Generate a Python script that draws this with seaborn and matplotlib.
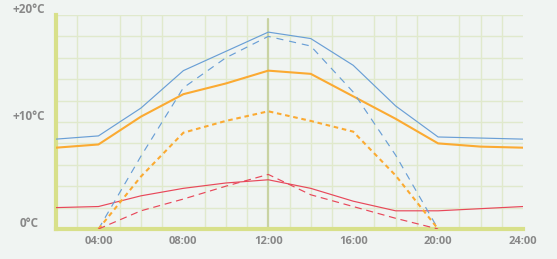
import matplotlib
matplotlib.use("Agg")
import matplotlib.pyplot as plt
import seaborn as sns
import numpy as np

# ---- data ----
hours_full = [2, 4, 6, 8, 10, 12, 14, 16, 18, 20, 22, 24]
hours_day = [4, 6, 8, 10, 12, 14, 16, 18, 20]

blue_solid = [8.4, 8.7, 11.3, 14.8, 16.6, 18.4, 17.8, 15.3, 11.5, 8.6, 8.5, 8.4]
orange_solid = [7.6, 7.9, 10.5, 12.6, 13.6, 14.8, 14.5, 12.4, 10.3, 8.0, 7.7, 7.6]
red_solid = [2.0, 2.1, 3.1, 3.8, 4.3, 4.6, 3.8, 2.6, 1.7, 1.7, 1.9, 2.1]

blue_dashed = [0.0, 6.8, 13.2, 16.0, 18.0, 17.1, 12.8, 6.9, 0.0]
orange_dotted = [0.0, 4.9, 9.0, 10.1, 11.0, 10.1, 9.1, 5.0, 0.0]
red_dashed = [0.0, 1.7, 2.8, 4.0, 5.1, 3.2, 2.1, 1.0, 0.0]

x_ticks = [4, 8, 12, 16, 20, 24]
x_labels = ["04:00", "08:00", "12:00", "16:00", "20:00", "24:00"]
y_ticks = [0, 10, 20]
y_labels = ["0°C", "+10°C", "+20°C"]

BLUE = "#6a9fd6"
ORANGE = "#fbaa32"
RED = "#e8485a"
BG = "#f0f4f2"
GRID = "#e0e9cc"
SPINE = "#d8e08a"
NOON = "#c9d3a3"
TXT = "#888888"

sns.set_theme(style="white")
plt.rcParams["font.family"] = ["Open Sans", "DejaVu Sans"]

fig = plt.figure(figsize=(5.57, 2.59), dpi=100, facecolor=BG)
ax = fig.add_axes([56 / 557, 1 - 229 / 259, (523 - 56) / 557, (229 - 15) / 259])
ax.set_facecolor(BG)

ax.set_xlim(2, 24)
ax.set_ylim(0, 20)

# grid
ax.set_xticks(np.arange(2, 25, 1), minor=True)
ax.set_yticks(np.arange(0, 21, 2), minor=True)
ax.grid(which="minor", color=GRID, linewidth=1.0)
ax.grid(which="major", visible=False)
ax.set_axisbelow(True)

ax.axvline(12, ymin=0, ymax=(229 - 19) / 214, color=NOON, linewidth=1.6, zorder=1.5)

sns.lineplot(x=hours_full, y=blue_solid, color=BLUE, linewidth=0.85, ax=ax, zorder=3)
sns.lineplot(x=hours_full, y=orange_solid, color=ORANGE, linewidth=1.5, ax=ax, zorder=3)
sns.lineplot(x=hours_full, y=red_solid, color=RED, linewidth=0.85, ax=ax, zorder=3)
sns.lineplot(x=hours_day, y=blue_dashed, color=BLUE, linewidth=0.85,
             linestyle=(0, (6, 5)), ax=ax, zorder=3)
sns.lineplot(x=hours_day, y=orange_dotted, color=ORANGE, linewidth=1.5,
             linestyle=(0, (2.2, 1.8)), ax=ax, zorder=3)
sns.lineplot(x=hours_day, y=red_dashed, color=RED, linewidth=0.85,
             linestyle=(0, (6, 4)), ax=ax, zorder=3)

# spines
for s in ["top", "right"]:
    ax.spines[s].set_visible(False)
for s in ["left", "bottom"]:
    ax.spines[s].set_color(SPINE)
    ax.spines[s].set_linewidth(3.0)
    ax.spines[s].set_capstyle("projecting")

# x ticks
ax.set_xticks(x_ticks)
ax.set_xticklabels(x_labels, fontsize=8, fontweight="bold", color=TXT)
ax.tick_params(axis="x", length=0, pad=5)

# y labels, drawn slightly above their values
ax.set_yticks([])
ytrans = ax.get_yaxis_transform()
for v, lab in zip(y_ticks, y_labels):
    ax.text(-27 / 467, v + 0.5, lab, transform=ytrans, ha="center", va="center",
            fontsize=8.5, fontweight="bold", color=TXT)

ax.set_xlabel("")
ax.set_ylabel("")

fig.savefig("out.png", dpi=100, facecolor=BG)
